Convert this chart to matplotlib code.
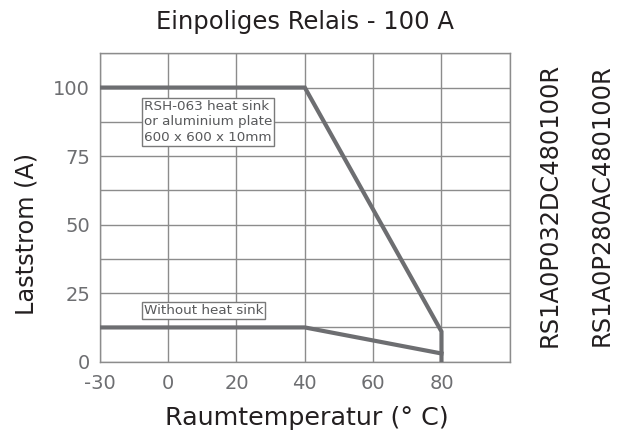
import matplotlib.pyplot as plt
import numpy as np

plt.rcParams['font.family'] = ['DejaVu Sans']

# temperature axis is not linear: each tick gets the same width
temp_ticks = [-30, 0, 20, 40, 60, 80, 100]
temp_labels = ['-30', '0', '20', '40', '60', '80', '']

# derating curves (temperature in deg C, current in A)
temp_heatsink = [-30, 40, 80, 80]
amps_heatsink = [100, 100, 11, 0]
temp_no_sink = [-30, 40, 80]
amps_no_sink = [12.5, 12.5, 3]

current_ticks = [0, 25, 50, 75, 100]
part_numbers = ['RS1A0P032DC480100R', 'RS1A0P280AC480100R']

line_col = '#6d6e71'
grid_col = '#8c8c8c'
text_col = '#231f20'


def to_pos(t):
    return np.interp(t, temp_ticks, np.arange(len(temp_ticks)))


fig = plt.figure(figsize=(6.24, 4.43), dpi=100)
ax = fig.add_axes([0.160, 0.1835, 0.657, 0.6962])

ax.plot(to_pos(temp_heatsink), amps_heatsink, color=line_col, lw=3,
        solid_joinstyle='miter', zorder=3)
ax.plot(to_pos(temp_no_sink), amps_no_sink, color=line_col, lw=3,
        solid_joinstyle='miter', zorder=3)

ax.set_xlim(0, len(temp_ticks) - 1)
ax.set_ylim(0, 112.5)
ax.set_xticks(np.arange(len(temp_ticks)))
ax.set_xticklabels(temp_labels)
ax.set_yticks(current_ticks)
ax.set_yticks(np.arange(0, 112.6, 12.5), minor=True)
ax.grid(True, which='both', color=grid_col, lw=1)
ax.tick_params(which='both', length=0)
ax.tick_params(axis='y', pad=7, labelsize=14, labelcolor=line_col)
ax.tick_params(axis='x', pad=9, labelsize=14, labelcolor=line_col)
for s in ax.spines.values():
    s.set_color(grid_col)
    s.set_linewidth(1)

box = dict(facecolor='white', edgecolor='#7a7a7a', lw=1, pad=1.5)
ax.text(0.64, 95.5, 'RSH-063 heat sink\nor aluminium plate\n600 x 600 x 10mm',
        fontsize=9.7, color='#58595b', ha='left', va='top', linespacing=1.25,
        bbox=box, zorder=4)
ax.text(0.64, 16.3, 'Without heat sink', fontsize=9.7, color='#58595b',
        ha='left', va='bottom', bbox=box, zorder=4)

fig.text(0.488, 0.95, 'Einpoliges Relais - 100 A', fontsize=17.5,
         color=text_col, ha='center', va='center')
fig.text(0.491, 0.056, 'Raumtemperatur (° C)', fontsize=18.3,
         color=text_col, ha='center', va='center')
fig.text(0.043, 0.472, 'Laststrom (A)', fontsize=17.3, rotation=90,
         color=text_col, ha='center', va='center')
for i, name in enumerate(part_numbers):
    fig.text((550 + 52 * i) / 624, 1 - 205 / 443, name, fontsize=17.4,
             rotation=90, color=text_col, ha='center', va='center')

fig.savefig('out.png', dpi=100)
